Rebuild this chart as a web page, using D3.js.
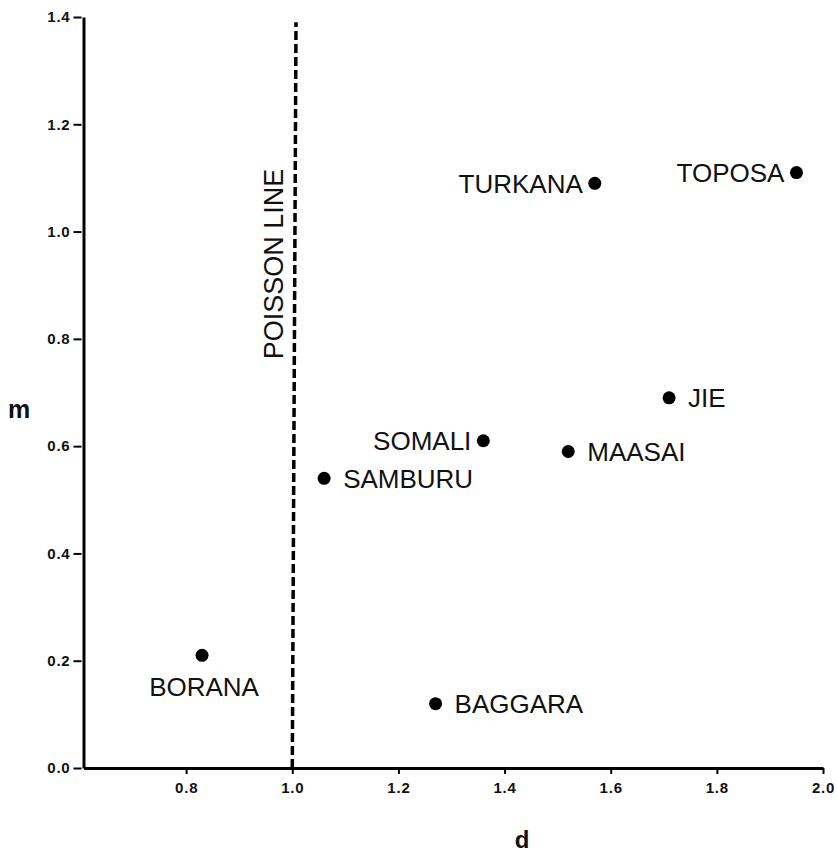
<!DOCTYPE html>
<html>
<head>
<meta charset="utf-8">
<script src="https://cdn.jsdelivr.net/npm/d3@7"></script>
<style>
  html, body { margin: 0; padding: 0; background: #fff; }
  svg { display: block; }
  text { font-family: "Liberation Sans", Arial, Helvetica, sans-serif; fill: #111; }
</style>
</head>
<body>
<svg id="chart" width="837" height="854"></svg>
<script>
// ---- data ----
const groups  = ["BORANA", "BAGGARA", "SAMBURU", "SOMALI", "MAASAI", "JIE", "TURKANA", "TOPOSA"];
const dValues = [0.83, 1.27, 1.06, 1.36, 1.52, 1.71, 1.57, 1.95];
const mValues = [0.21, 0.12, 0.54, 0.61, 0.59, 0.69, 1.09, 1.11];
const xTicks  = [0.8, 1.0, 1.2, 1.4, 1.6, 1.8, 2.0];
const yTicks  = [0.0, 0.2, 0.4, 0.6, 0.8, 1.0, 1.2, 1.4];
const poissonD = [1.0, 1.007];
const poissonM = [0.0, 1.39];

// ---- label placement (layout only) ----
const labelSide = ["below", "right", "right", "left", "right", "right", "left", "left"];

const svg = d3.select("#chart");
const x = d3.scaleLinear().domain([0.6066, 2.0]).range([83.5, 823]);
const y = d3.scaleLinear().domain([0, 1.4]).range([768, 17]);

// axes
const xAxis = d3.axisBottom(x).tickValues(xTicks).tickFormat(d3.format(".1f")).tickSizeInner(6).tickSizeOuter(0).tickPadding(8);
const yAxis = d3.axisLeft(y).tickValues(yTicks).tickFormat(d3.format(".1f")).tickSizeInner(8).tickSizeOuter(0).tickPadding(5);

const gx = svg.append("g").attr("transform", "translate(0,768)").call(xAxis);
const gy = svg.append("g").attr("transform", "translate(83.5,0)").call(yAxis);

[gx, gy].forEach(g => {
  g.attr("font-size", null).attr("font-family", null);
  g.select(".domain").attr("stroke", "#000").attr("stroke-width", 3);
  g.selectAll(".tick line").attr("stroke", "#000").attr("stroke-width", 2);
  g.selectAll(".tick text")
    .attr("fill", "#000")
    .style("font-family", '"Liberation Sans", Arial, sans-serif')
    .style("font-weight", "bold")
    .style("font-size", "15px")
    .style("letter-spacing", "0.8px");
});
gy.selectAll(".tick line").attr("transform", "translate(-2,0)");

// axis titles
svg.append("text").attr("x", 19).attr("y", 418).attr("text-anchor", "middle")
  .style("font-weight", "bold").style("font-size", "25px").text("m");
svg.append("text").attr("x", 522).attr("y", 848).attr("text-anchor", "middle")
  .style("font-weight", "bold").style("font-size", "24px").text("d");

// Poisson line
const pts = poissonD.map((d, i) => [d, poissonM[i]]);
svg.append("path")
  .attr("d", d3.line().x(p => x(p[0])).y(p => y(p[1]))(pts))
  .attr("stroke", "#000").attr("stroke-width", 3.5)
  .attr("stroke-dasharray", "9,4").attr("fill", "none");

svg.append("text")
  .attr("transform", `translate(${x(1.0) - 9},264) rotate(-90)`)
  .attr("text-anchor", "middle")
  .style("font-size", "27px")
  .text("POISSON LINE");

// points
const data = groups.map((g, i) => ({ name: g, d: dValues[i], m: mValues[i], side: labelSide[i] }));

svg.append("g").selectAll("circle").data(data).join("circle")
  .attr("cx", p => x(p.d)).attr("cy", p => y(p.m)).attr("r", 6.5).attr("fill", "#000");

svg.append("g").selectAll("text").data(data).join("text")
  .attr("x", p => p.side === "right" ? x(p.d) + 19 : p.side === "left" ? x(p.d) - 12 : x(p.d) + 2)
  .attr("y", p => p.side === "below" ? y(p.m) + 41 : y(p.m) + 9.5)
  .attr("text-anchor", p => p.side === "right" ? "start" : p.side === "left" ? "end" : "middle")
  .style("font-size", "26px")
  .text(p => p.name);
</script>
</body>
</html>
